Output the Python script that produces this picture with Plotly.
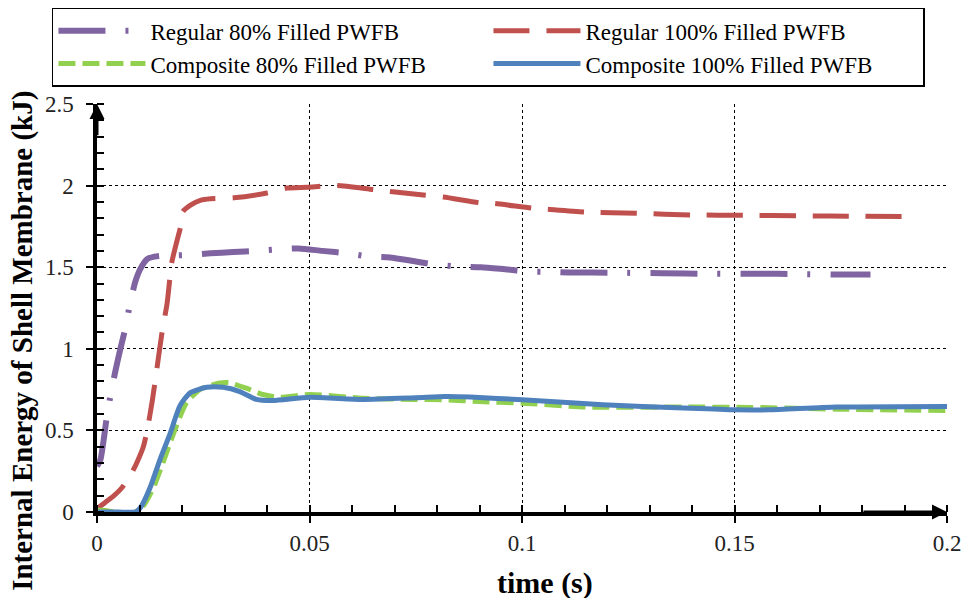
import plotly.graph_objects as go

# ---- data ----
t_reg80 = [0, 0.0008, 0.0024, 0.0033, 0.0043, 0.0055, 0.0067, 0.0078, 0.009, 0.0102, 0.0118, 0.0135,
           0.0149, 0.018, 0.0216, 0.0267, 0.032, 0.0376, 0.043, 0.0475, 0.053, 0.059, 0.064, 0.069,
           0.075, 0.08, 0.085, 0.0904, 0.096, 0.1015, 0.106, 0.111, 0.122, 0.133, 0.144, 0.155,
           0.165, 0.176, 0.182]
e_reg80 = [0.28, 0.32, 0.6, 0.73, 0.86, 1.0, 1.13, 1.28, 1.41, 1.49, 1.55, 1.565,
           1.57, 1.572, 1.575, 1.585, 1.593, 1.6, 1.61, 1.615, 1.6, 1.585, 1.565, 1.56,
           1.535, 1.515, 1.504, 1.5, 1.487, 1.474, 1.472, 1.468, 1.466, 1.463, 1.46, 1.46,
           1.458, 1.455, 1.455]

t_reg100 = [0, 0.002, 0.004, 0.0059, 0.0082, 0.0095, 0.0109, 0.0118, 0.013, 0.0141, 0.0153, 0.0165,
            0.0176, 0.0188, 0.0196, 0.0202, 0.022, 0.0243, 0.0267, 0.0322, 0.04, 0.0447, 0.0495,
            0.0565, 0.0652, 0.074, 0.0815, 0.09, 0.0936, 0.1024, 0.106, 0.115, 0.127, 0.14, 0.152,
            0.165, 0.18, 0.19]
e_reg100 = [0.02, 0.06, 0.1, 0.15, 0.24, 0.31, 0.40, 0.5, 0.68, 0.88, 1.1, 1.28,
            1.53, 1.66, 1.74, 1.84, 1.88, 1.91, 1.92, 1.925, 1.955, 1.985, 1.99,
            2.0, 1.975, 1.95, 1.93, 1.895, 1.89, 1.862, 1.855, 1.838, 1.83, 1.82, 1.818,
            1.815, 1.812, 1.81]

t_comp80 = [0, 0.002, 0.004, 0.009, 0.011, 0.0133, 0.0155, 0.018, 0.021, 0.0242, 0.0289, 0.031,
            0.035, 0.039, 0.043, 0.05, 0.0625, 0.075, 0.082, 0.09, 0.1, 0.115, 0.138, 0.154,
            0.174, 0.2]
e_comp80 = [0.01, 0.01, 0, 0, 0.04, 0.15, 0.3, 0.48, 0.667, 0.75, 0.79, 0.793,
            0.76, 0.72, 0.703, 0.72, 0.697, 0.69, 0.687, 0.677, 0.667, 0.643, 0.643, 0.641,
            0.63, 0.622]

t_comp100 = [0, 0.005, 0.009, 0.0102, 0.0125, 0.0148, 0.0172, 0.0195, 0.0219, 0.0258, 0.0297,
             0.0336, 0.0375, 0.0414, 0.05, 0.0625, 0.075, 0.082, 0.0878, 0.1, 0.119, 0.138,
             0.15, 0.158, 0.174, 0.2]
e_comp100 = [0, 0, 0, 0.026, 0.15, 0.32, 0.48, 0.65, 0.73, 0.764, 0.764,
             0.738, 0.69, 0.683, 0.703, 0.69, 0.7, 0.707, 0.704, 0.688, 0.657, 0.637,
             0.626, 0.626, 0.643, 0.647]

names = ["Regular 80% Filled PWFB", "Regular 100% Filled PWFB",
         "Composite 80% Filled PWFB", "Composite 100% Filled PWFB"]

x_ticks = [0, 0.05, 0.1, 0.15, 0.2]
x_tick_text = ["0", "0.05", "0.1", "0.15", "0.2"]
y_ticks = [0, 0.5, 1, 1.5, 2, 2.5]
y_tick_text = ["0", "0.5", "1", "1.5", "2", "2.5"]

SERIF = '"Liberation Serif", "Times New Roman", Tinos, "DejaVu Serif", serif'

fig = go.Figure()
series = [
    (t_reg80, e_reg80, names[0], "#8064A2", "47px,20px,3px,20px", 6),
    (t_reg100, e_reg100, names[1], "#C0504D", "36px,17px", 5),
    (t_comp80, e_comp80, names[2], "#92D050", "17px,7px", 5),
    (t_comp100, e_comp100, names[3], "#4F81BD", "solid", 5),
]
for t, e, n, c, d, w in series:
    fig.add_trace(go.Scatter(x=t, y=e, name=n, mode="lines",
                             line=dict(color=c, width=w, dash=d, shape="spline", smoothing=0.6)))

axis_common = dict(
    showline=True, linecolor="black", linewidth=3.5,
    showgrid=True, gridcolor="black", griddash="dot", gridwidth=1,
    zeroline=False,
    ticks="outside", ticklen=7, tickwidth=1.5, tickcolor="black",
    tickfont=dict(family=SERIF, size=23, color="#222"),
)

fig.update_xaxes(range=[0, 0.2], tickvals=x_ticks, ticktext=x_tick_text,
                 ticklabelstandoff=1,
                 minor=dict(ticks="inside", ticklen=7, tickwidth=1.5, tickcolor="black",
                            dtick=0.01, showgrid=False),
                 **axis_common)
fig.update_yaxes(range=[0, 2.5], tickvals=y_ticks, ticktext=y_tick_text,
                 ticklabelstandoff=8,
                 minor=dict(ticks="inside", ticklen=7, tickwidth=1.5, tickcolor="black",
                            dtick=0.1, showgrid=False),
                 **axis_common)

fig.update_layout(
    width=970, height=598,
    margin=dict(l=97, r=23, t=104, b=86, autoexpand=False),
    plot_bgcolor="white", paper_bgcolor="white",
    font=dict(family=SERIF, color="black"),
    legend=dict(orientation="h", x=-0.053, y=1.236, xanchor="left", yanchor="top",
                bgcolor="white", bordercolor="black", borderwidth=1.5,
                font=dict(family=SERIF, size=23, color="black"),
                itemwidth=87, entrywidth=333, tracegroupgap=0),
    annotations=[
        dict(text="<b>time (s)</b>", xref="paper", yref="paper", x=0.527, y=-0.174,
             xanchor="center", yanchor="middle", showarrow=False,
             font=dict(family=SERIF, size=30, color="black")),
        dict(text="<b>Internal Energy of Shell Membrane (kJ)</b>", xref="paper", yref="paper",
             x=-0.088, y=0.42, xanchor="center", yanchor="middle", textangle=-90,
             showarrow=False, font=dict(family=SERIF, size=29, color="black")),
        dict(text="", x=0, y=2.5, ax=0, ay=2.3, xref="x", yref="y", axref="x", ayref="y",
             showarrow=True, arrowhead=2, arrowsize=1, arrowwidth=3, arrowcolor="black"),
        dict(text="", x=0.2, y=0, ax=0.18, ay=0, xref="x", yref="y", axref="x", ayref="y",
             showarrow=True, arrowhead=2, arrowsize=1, arrowwidth=3, arrowcolor="black"),
    ],
)

fig.write_html("out.html", config={"displayModeBar": False},
               post_script="document.body.style.margin='0';")
